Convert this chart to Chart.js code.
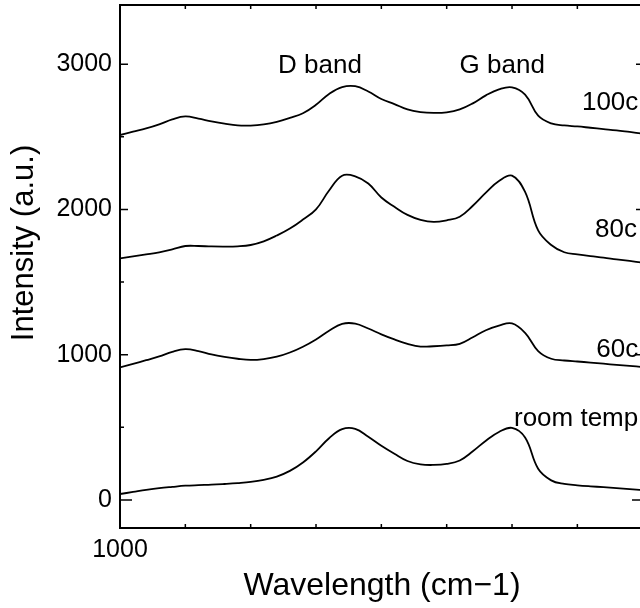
<!DOCTYPE html>
<html>
<head>
<meta charset="utf-8">
<title>Raman spectra</title>
<script src="https://cdn.jsdelivr.net/npm/chart.js@4.4.0/dist/chart.umd.min.js"></script>
<style>
  html, body { margin: 0; padding: 0; background: #fff; overflow: hidden; }
  #wrap { width: 648px; height: 608px; }
</style>
</head>
<body>
<div id="wrap"><canvas id="ramanChart" width="648" height="608"></canvas></div>
<script>
// wavenumber samples (cm-1), every 20
const wavenumbers = [1000, 1020, 1040, 1060, 1080, 1100, 1120, 1140, 1160, 1180,
  1200, 1220, 1240, 1260, 1280, 1300, 1320, 1340, 1360, 1380,
  1400, 1420, 1440, 1460, 1480, 1500, 1520, 1540, 1560, 1580,
  1600, 1620, 1640, 1660, 1680, 1700, 1720, 1740, 1760, 1780, 1800];

const temp100 = [2512, 2535, 2557, 2585, 2620, 2640, 2625, 2606, 2590, 2578,
  2577, 2585, 2603, 2630, 2662, 2720, 2795, 2842, 2848, 2812,
  2760, 2725, 2688, 2670, 2664, 2668, 2688, 2730, 2785, 2826,
  2840, 2790, 2645, 2592, 2578, 2571, 2562, 2553, 2544, 2533, 2522];

const temp80 = [1663, 1676, 1690, 1705, 1725, 1748, 1748, 1745, 1744, 1746,
  1755, 1780, 1820, 1868, 1930, 2000, 2130, 2232, 2228, 2178,
  2082, 2018, 1962, 1928, 1914, 1925, 1950, 2025, 2115, 2195,
  2232, 2120, 1855, 1755, 1705, 1690, 1678, 1668, 1656, 1645, 1634];

const temp60 = [913, 937, 962, 988, 1020, 1038, 1025, 1002, 985, 972,
  964, 970, 986, 1015, 1055, 1105, 1165, 1212, 1214, 1180,
  1140, 1105, 1075, 1056, 1058, 1064, 1075, 1120, 1168, 1200,
  1215, 1150, 1025, 972, 960, 953, 946, 938, 930, 923, 915];

const roomTemp = [41, 55, 69, 81, 90, 98, 102, 105, 110, 116,
  124, 138, 161, 200, 258, 335, 425, 488, 490, 435,
  373, 318, 268, 245, 241, 248, 272, 335, 408, 468,
  496, 430, 215, 135, 110, 101, 94, 88, 82, 75, 68];

const yTickLabels = [0, 1000, 2000, 3000];
const yMinorTicks = [500, 1500, 2500];
const xTickLabels = [1000];
const xMinorTicks = [1100, 1200, 1300, 1400, 1500, 1600, 1700];

// text placed in data coordinates
const curveLabels = [
  { text: "D band", x: 1306, y: 2939, align: "center" },
  { text: "G band", x: 1585, y: 2939, align: "center" },
  { text: "100c", x: 1707, y: 2684, align: "left" },
  { text: "80c", x: 1727, y: 1810, align: "left" },
  { text: "60c", x: 1729, y: 984, align: "left" },
  { text: "room temp.", x: 1603, y: 509, align: "left" }
];

const FONT = "'Liberation Sans', Arial, sans-serif";

function toPoints(ys) {
  return wavenumbers.map((x, i) => ({ x: x, y: ys[i] }));
}

function makeSet(label, ys) {
  return {
    label: label,
    data: toPoints(ys),
    borderColor: "#000",
    borderWidth: 1.8,
    pointRadius: 0,
    fill: false,
    tension: 0.4
  };
}

// frame, inward ticks, curve labels and the y title
const decorPlugin = {
  id: "decor",
  afterDraw(chart) {
    const ctx = chart.ctx;
    const area = chart.chartArea;
    const xs = chart.scales.x;
    const ys = chart.scales.y;

    ctx.save();
    ctx.strokeStyle = "#000";
    ctx.lineWidth = 2;
    ctx.strokeRect(area.left, area.top, area.right - area.left, area.bottom - area.top);

    ctx.lineWidth = 1.5;
    ctx.beginPath();
    yTickLabels.forEach((v) => {
      const py = ys.getPixelForValue(v);
      const len = v === 0 ? 12 : 8;
      ctx.moveTo(area.left, py); ctx.lineTo(area.left + len, py);
      ctx.moveTo(area.right, py); ctx.lineTo(area.right - len, py);
    });
    yMinorTicks.forEach((v) => {
      const py = ys.getPixelForValue(v);
      ctx.moveTo(area.left, py); ctx.lineTo(area.left + 4, py);
      ctx.moveTo(area.right, py); ctx.lineTo(area.right - 4, py);
    });
    xMinorTicks.forEach((v) => {
      const px = xs.getPixelForValue(v);
      ctx.moveTo(px, area.bottom); ctx.lineTo(px, area.bottom - 4);
      ctx.moveTo(px, area.top); ctx.lineTo(px, area.top + 4);
    });
    ctx.stroke();

    ctx.fillStyle = "#000";
    ctx.font = "26px " + FONT;
    ctx.textBaseline = "alphabetic";
    curveLabels.forEach((l) => {
      ctx.textAlign = l.align;
      ctx.fillText(l.text, xs.getPixelForValue(l.x), ys.getPixelForValue(l.y));
    });

    ctx.font = "31px " + FONT;
    ctx.textAlign = "center";
    ctx.textBaseline = "middle";
    ctx.translate(24, 243);
    ctx.rotate(-Math.PI / 2);
    ctx.fillText("Intensity (a.u.)", 0, 0);
    ctx.restore();
  }
};

const ctx = document.getElementById("ramanChart").getContext("2d");
new Chart(ctx, {
  type: "line",
  data: {
    datasets: [
      makeSet("100c", temp100),
      makeSet("80c", temp80),
      makeSet("60c", temp60),
      makeSet("room temp.", roomTemp)
    ]
  },
  options: {
    responsive: false,
    animation: false,
    layout: { padding: { top: 5, right: 4, left: 0, bottom: 0 } },
    plugins: {
      legend: { display: false },
      tooltip: { enabled: false }
    },
    scales: {
      x: {
        type: "linear",
        min: 1000,
        max: 1802,
        grid: { display: false, drawTicks: false },
        border: { display: false },
        afterBuildTicks: (scale) => {
          scale.ticks = xTickLabels.map((v) => ({ value: v }));
        },
        afterFit: (scale) => {
          scale.height = 80;
          scale.paddingLeft = 0;
          scale.paddingRight = 0;
        },
        ticks: {
          color: "#000",
          padding: 7,
          maxRotation: 0,
          autoSkip: false,
          font: { family: FONT, size: 25 },
          callback: (v) => String(v)
        },
        title: {
          display: true,
          text: "Wavelength (cm\u22121)",
          color: "#000",
          font: { family: FONT, size: 32 },
          padding: { top: 0, bottom: 3 }
        }
      },
      y: {
        min: -193,
        max: 3407,
        grid: { display: false, drawTicks: false },
        border: { display: false },
        afterBuildTicks: (scale) => {
          scale.ticks = yTickLabels.map((v) => ({ value: v }));
        },
        afterFit: (scale) => {
          scale.width = 120;
          scale.paddingTop = 0;
          scale.paddingBottom = 0;
        },
        ticks: {
          color: "#000",
          padding: 8,
          autoSkip: false,
          font: { family: FONT, size: 25 },
          callback: (v) => String(v)
        }
      }
    }
  },
  plugins: [decorPlugin]
});
</script>
</body>
</html>
